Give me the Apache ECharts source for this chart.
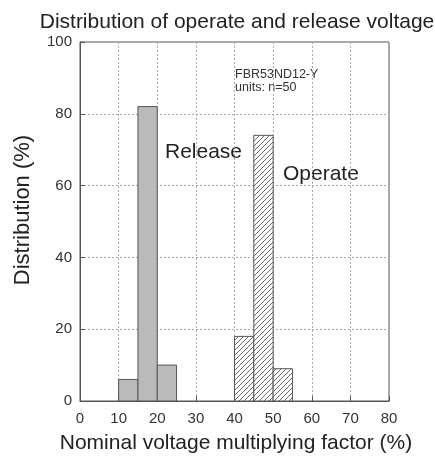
<!DOCTYPE html>
<html><head><meta charset="utf-8">
<script src="https://cdn.jsdelivr.net/npm/echarts@6/dist/echarts.min.js"></script>
<style>html,body{margin:0;padding:0;background:#fff}#c{width:435px;height:460px}</style>
</head><body><div id="c"></div>
<script>
var binWidth = 5;
var releaseStarts = [10, 15, 20];
var releaseValues = [6, 82, 10];
var operateStarts = [40, 45, 50];
var operateValues = [18, 74, 9];
var xTicks = [0, 10, 20, 30, 40, 50, 60, 70, 80];
var yTicks = [0, 20, 40, 60, 80, 100];

function hatch() {
  var s = 5, cv = document.createElement('canvas');
  cv.width = s; cv.height = s;
  var c = cv.getContext('2d');
  c.fillStyle = '#fff'; c.fillRect(0, 0, s, s);
  c.strokeStyle = '#444'; c.lineWidth = 0.8;
  c.beginPath();
  c.moveTo(0, s); c.lineTo(s, 0);
  c.moveTo(-1, 1); c.lineTo(1, -1);
  c.moveTo(s - 1, s + 1); c.lineTo(s + 1, s - 1);
  c.stroke();
  return cv;
}
var pattern = { image: hatch(), repeat: 'repeat' };

function toData(starts, vals) {
  return starts.map(function (s, i) { return [s, s + binWidth, vals[i]]; });
}
function makeRender(fill) {
  return function (params, api) {
    var p0 = api.coord([api.value(0), api.value(2)]);
    var p1 = api.coord([api.value(1), 0]);
    return {
      type: 'rect',
      shape: { x: p0[0], y: p0[1], width: p1[0] - p0[0], height: p1[1] - p0[1] },
      style: { fill: fill, stroke: '#555', lineWidth: 1 }
    };
  };
}
var font = 'Liberation Sans, Arial, sans-serif';
var chart = echarts.init(document.getElementById('c'));
chart.setOption({
  animation: false,
  textStyle: { fontFamily: font },
  title: {
    text: 'Distribution of operate and release voltage',
    left: 232, top: 7, textAlign: 'center',
    textStyle: { fontSize: 21, fontWeight: 'normal', color: '#222', fontFamily: font }
  },
  grid: { left: 80, right: 46, top: 42, bottom: 59, show: true, borderColor: '#555', borderWidth: 1 },
  xAxis: {
    type: 'value', min: xTicks[0], max: xTicks[xTicks.length - 1], interval: 10,
    axisLine: { show: true, lineStyle: { color: '#555' } },
    axisTick: { show: true, inside: true, length: 5, lineStyle: { color: '#555' } },
    axisLabel: { fontSize: 15, color: '#333', margin: 10 },
    splitLine: { show: true, lineStyle: { type: [2, 2], color: '#aaa', width: 1 } }
  },
  yAxis: {
    type: 'value', min: yTicks[0], max: yTicks[yTicks.length - 1], interval: 20,
    axisLine: { show: true, lineStyle: { color: '#555' } },
    axisTick: { show: true, inside: true, length: 5, lineStyle: { color: '#555' } },
    axisLabel: { fontSize: 15, color: '#333', margin: 8 },
    splitLine: { show: true, lineStyle: { type: [2, 2], color: '#aaa', width: 1 } }
  },
  graphic: [
    { type: 'text', x: 236, y: 443, style: { text: 'Nominal voltage multiplying factor (%)', fontSize: 21, fill: '#222', fontFamily: font, align: 'center', verticalAlign: 'middle' } },
    { type: 'text', x: 23, y: 210, rotation: Math.PI / 2, style: { text: 'Distribution (%)', fontSize: 22, fill: '#222', fontFamily: font, align: 'center', verticalAlign: 'middle' } },
    { type: 'text', x: 235, y: 75, style: { text: 'FBR53ND12-Y', fontSize: 12.5, fill: '#333', fontFamily: font, verticalAlign: 'middle' } },
    { type: 'text', x: 235, y: 88, style: { text: 'units: n=50', fontSize: 12.5, fill: '#333', fontFamily: font, verticalAlign: 'middle' } },
    { type: 'text', x: 165, y: 152, style: { text: 'Release', fontSize: 21, fill: '#222', fontFamily: font, verticalAlign: 'middle' } },
    { type: 'text', x: 283, y: 174, style: { text: 'Operate', fontSize: 21, fill: '#222', fontFamily: font, verticalAlign: 'middle' } }
  ],
  series: [
    { type: 'custom', renderItem: makeRender('#bababa'), data: toData(releaseStarts, releaseValues), encode: { x: [0, 1], y: 2 } },
    { type: 'custom', renderItem: makeRender(pattern), data: toData(operateStarts, operateValues), encode: { x: [0, 1], y: 2 } }
  ]
});
</script></body></html>
